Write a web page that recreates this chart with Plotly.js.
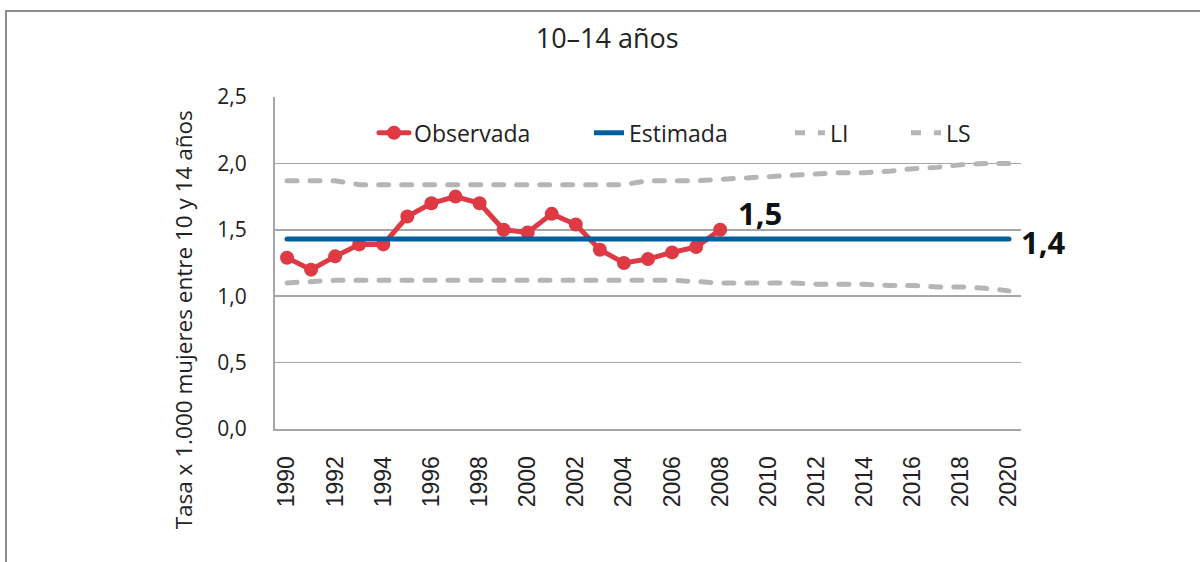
<!DOCTYPE html>
<html>
<head>
<meta charset="utf-8">
<script src="https://cdn.plot.ly/plotly-3.0.1.min.js"></script>
<style>
html,body{margin:0;padding:0;background:#fff;}
#chart{width:1200px;height:562px;position:absolute;left:0;top:0;}
#frame{position:absolute;left:5px;top:10px;width:1300px;height:700px;border-left:2px solid #8c8c8c;border-top:2px solid #8c8c8c;pointer-events:none;z-index:5;}
.scatterlayer .js-line{stroke-linecap:round;}
.legend .js-line{stroke-linecap:round;}
</style>
</head>
<body>
<div id="chart"></div>
<div id="frame"></div>
<script>
const years = [1990,1991,1992,1993,1994,1995,1996,1997,1998,1999,2000,2001,2002,2003,2004,2005,2006,2007,2008,2009,2010,2011,2012,2013,2014,2015,2016,2017,2018,2019,2020];
const observedYears = [1990,1991,1992,1993,1994,1995,1996,1997,1998,1999,2000,2001,2002,2003,2004,2005,2006,2007,2008];
const observada = [1.29,1.20,1.30,1.39,1.39,1.60,1.70,1.75,1.70,1.50,1.48,1.62,1.54,1.35,1.25,1.28,1.33,1.37,1.50];
const estimada = [1.43,1.43,1.43,1.43,1.43,1.43,1.43,1.43,1.43,1.43,1.43,1.43,1.43,1.43,1.43,1.43,1.43,1.43,1.43,1.43,1.43,1.43,1.43,1.43,1.43,1.43,1.43,1.43,1.43,1.43,1.43];
const li = [1.10,1.11,1.12,1.12,1.12,1.12,1.12,1.12,1.12,1.12,1.12,1.12,1.12,1.12,1.12,1.12,1.12,1.11,1.10,1.10,1.10,1.10,1.09,1.09,1.09,1.08,1.08,1.07,1.07,1.06,1.04];
const ls = [1.87,1.87,1.87,1.84,1.84,1.84,1.84,1.84,1.84,1.84,1.84,1.84,1.84,1.84,1.84,1.87,1.87,1.87,1.88,1.89,1.90,1.91,1.92,1.93,1.93,1.94,1.96,1.97,1.99,2.00,2.00];
const labelObs = "1,5";
const labelEst = "1,4";
const chartTitle = "10–14 años";
const yTitle = "Tasa x 1.000 mujeres entre 10 y 14 años";
const FONT = "Open Sans, Lato, sans-serif";

const dashGrey = "10px,13px";
const traces = [
  {x: observedYears, y: observada, name: "Observada", type: "scatter", mode: "lines+markers", legend: "legend",
   line: {color: "#DE3A44", width: 5}, marker: {color: "#DE3A44", size: 14}},
  {x: years, y: estimada, name: "Estimada", type: "scatter", mode: "lines", legend: "legend2",
   line: {color: "#005EA0", width: 5}},
  {x: years, y: li, name: "LI", type: "scatter", mode: "lines", legend: "legend3",
   line: {color: "#B5B5B5", width: 5, dash: dashGrey}},
  {x: years, y: ls, name: "LS", type: "scatter", mode: "lines", legend: "legend4",
   line: {color: "#B5B5B5", width: 5, dash: dashGrey}}
];

function leg(x) {
  return {orientation: "h", x: x, xanchor: "left", y: 0.892, yanchor: "middle",
          font: {family: FONT, size: 23, color: "#222"}, bgcolor: "rgba(0,0,0,0)"};
}

const layout = {
  width: 1200, height: 562,
  margin: {l: 275, r: 179, t: 97, b: 133},
  paper_bgcolor: "#fff", plot_bgcolor: "#fff",
  font: {family: FONT, color: "#222"},
  title: {text: chartTitle, x: 0.506, xref: "container", xanchor: "center", y: 1, yref: "container", yanchor: "top", pad: {t: 29},
          font: {family: FONT, size: 27, color: "#222"}},
  showlegend: true,
  legend: leg(0.1327),
  legend2: leg(0.4209),
  legend3: leg(0.6903),
  legend4: leg(0.8458),
  xaxis: {range: [1989.5, 2020.5], tickmode: "linear", tick0: 1990, dtick: 2, tickangle: -90,
          showgrid: false, zeroline: false, showline: true, linecolor: "#A6A6A6", linewidth: 2,
          ticks: "", ticklabelstandoff: 16, tickfont: {family: "Liberation Sans, Arial, sans-serif", size: 23, color: "#222"}},
  yaxis: {range: [0, 2.5], tickmode: "linear", tick0: 0, dtick: 0.5, tickformat: ".1f",
          showgrid: true, gridcolor: "#A6A6A6", gridwidth: 1.5,
          zeroline: false, showline: true, linecolor: "#A6A6A6", linewidth: 2, ticks: "",
          ticklabelstandoff: 22, tickfont: {family: FONT, size: 21, color: "#222"}},
  separators: ",.",
  annotations: [
    {x: -0.123, y: 0.328, xref: "paper", yref: "paper", text: yTitle, textangle: -90, showarrow: false,
     xanchor: "center", yanchor: "middle", font: {family: FONT, size: 22.5, color: "#222"}},
    {x: observedYears[observedYears.length - 1], y: observada[observada.length - 1], xref: "x", yref: "y",
     text: "<b>" + labelObs + "</b>", showarrow: false, xanchor: "left", yanchor: "bottom", xshift: 16, yshift: -6,
     font: {family: FONT, size: 31, color: "#111"}},
    {x: years[years.length - 1], y: estimada[estimada.length - 1], xref: "x", yref: "y",
     text: "<b>" + labelEst + "</b>", showarrow: false, xanchor: "left", yanchor: "middle", xshift: 10, yshift: -3,
     font: {family: FONT, size: 31, color: "#111"}}
  ]
};

Plotly.newPlot("chart", traces, layout, {displayModeBar: false, staticPlot: true});
</script>
</body>
</html>
